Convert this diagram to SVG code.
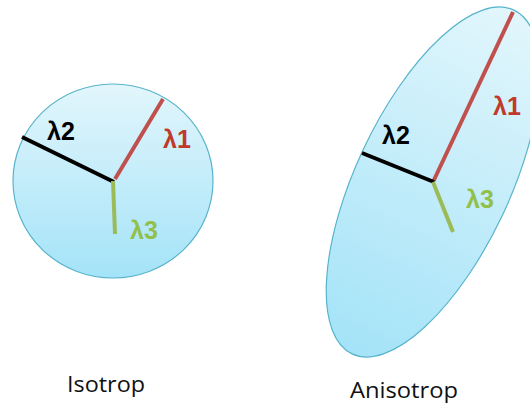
<svg xmlns="http://www.w3.org/2000/svg" width="530" height="403" viewBox="0 0 530 403">
<defs>
<linearGradient id="g" x1="0" y1="0" x2="0" y2="1">
<stop offset="0" stop-color="#e2f6fc"/>
<stop offset="1" stop-color="#a4e3f8"/>
</linearGradient>
</defs>
<style>
.shape{stroke:#58b4cb;stroke-width:1.2}
.ax{stroke-width:4;fill:none;stroke-linecap:butt}
.red{stroke:#c0504d}
.blk{stroke:#000}
.grn{stroke:#9bbb59}
.lab{font-family:"Liberation Sans",Arial,sans-serif;font-weight:bold;font-size:25px}
.cap{font-family:"Open Sans","Liberation Sans",sans-serif;font-size:22px;fill:#111}
</style>
<g id="isotrop">
<ellipse class="shape" cx="113" cy="181" rx="100" ry="97" fill="url(#g)"/>
<line class="ax red" x1="115" y1="179" x2="163" y2="99"/>
<line class="ax blk" x1="22" y1="137" x2="114" y2="182"/>
<line class="ax grn" x1="113" y1="181" x2="115" y2="234"/>
<text class="lab" x="47" y="140" fill="#000">λ2</text>
<text class="lab" x="163" y="148" fill="#c0392b">λ1</text>
<text class="lab" x="130" y="239" fill="#92c04a">λ3</text>
<text class="cap" x="67" y="392" textLength="78" lengthAdjust="spacingAndGlyphs">Isotrop</text>
</g>
<g id="anisotrop">
<ellipse class="shape" cx="0" cy="0" rx="77" ry="190" fill="url(#g)" transform="translate(433,182) rotate(25.2)"/>
<line class="ax red" x1="433" y1="182" x2="513" y2="12"/>
<line class="ax blk" x1="362" y1="153" x2="434" y2="182"/>
<line class="ax grn" x1="433" y1="182" x2="453" y2="232"/>
<text class="lab" x="382" y="144" fill="#000">λ2</text>
<text class="lab" x="493" y="115" fill="#c0392b">λ1</text>
<text class="lab" x="466" y="208" fill="#92c04a">λ3</text>
<text class="cap" x="350" y="398" textLength="108" lengthAdjust="spacingAndGlyphs">Anisotrop</text>
</g>
<g id="connectors"/>
</svg>
